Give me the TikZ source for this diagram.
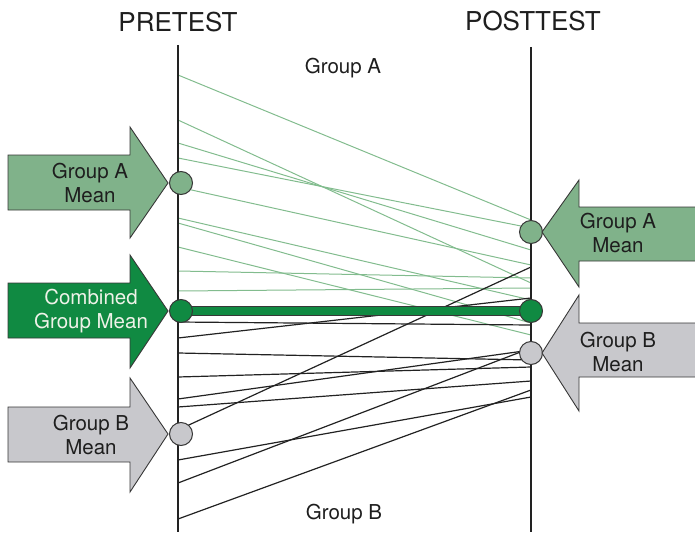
\documentclass[tikz,border=0pt]{standalone}
\usepackage{fontspec}
\setmainfont{TeX Gyre Heros}
\definecolor{fillA}{RGB}{128,178,138}
\definecolor{fillC}{RGB}{16,138,66}
\definecolor{fillB}{RGB}{200,200,204}
\definecolor{lineA}{RGB}{130,188,142}
\definecolor{lineB}{RGB}{34,34,34}
\definecolor{outline}{RGB}{55,55,55}
\definecolor{textdark}{RGB}{30,30,30}
\definecolor{textlight}{RGB}{238,242,232}
\tikzset{
  dataA/.style={draw=lineA, line width=1pt},
  dataB/.style={draw=lineB, line width=1.2pt},
  axisline/.style={draw=lineB, line width=2.6pt},
  dot/.style={circle, draw=outline, line width=1pt, minimum size=23pt, inner sep=0pt},
  bigarrow/.style={draw=outline, line width=0.9pt, line join=miter},
  arrowtext/.style={font=\fontsize{20.5}{24}\selectfont, align=center, text=textdark, inner sep=0pt},
  heading/.style={font=\fontsize{26}{28}\selectfont, text=textdark, inner sep=0pt},
  grouptext/.style={font=\fontsize{20.5}{24}\selectfont, text=textdark, inner sep=0pt},
}
\begin{document}
\begin{tikzpicture}[x=1pt,y=-1pt]
\useasboundingbox (0,0) rectangle (695,532);

% column headings
\node[heading, anchor=base] (pre)  at (178,32) {PRETEST};
\node[heading, anchor=base] (post) at (533,31) {POSTTEST};
\node[grouptext, anchor=base] (ga) at (343,74) {Group A};
\node[grouptext, anchor=base] (gb) at (344,519) {Group B};

% individual scores, Group A (pretest y / posttest y)
\foreach \a/\b [count=\i] in {75/220,120/283,143/250,158/228,187/265,218/300,223/323,247/335,271/278,291/288}{
  \coordinate (pa\i) at (178,\a);
  \coordinate (qa\i) at (531,\b);
  \draw[dataA] (pa\i) -- (qa\i);
}
% individual scores, Group B
\foreach \a/\b [count=\i] in {322/325,338/298,353/360,377/367,399/350,407/381,430/267,460/397,483/348,519/390}{
  \coordinate (pb\i) at (178,\a);
  \coordinate (qb\i) at (531,\b);
  \draw[dataB] (pb\i) -- (qb\i);
}

% test axes
\coordinate (ltop) at (178,45);
\coordinate (lbot) at (178,532);
\coordinate (rtop) at (531,47);
\coordinate (rbot) at (531,532);
\draw[axisline] (ltop) -- (lbot);
\draw[axisline] (rtop) -- (rbot);

% combined mean bar
\coordinate (cL) at (181,311);
\coordinate (cR) at (531,311);
\draw[line width=9.5pt, outline] (cL) -- (cR);
\draw[line width=7.5pt, fillC] (cL) -- (cR);

% mean markers
\node[dot, fill=fillA] (preA)  at (181,183) {};
\node[dot, fill=fillC] (preC)  at (cL) {};
\node[dot, fill=fillB] (preB)  at (181,434) {};
\node[dot, fill=fillA] (postA) at (531,232) {};
\node[dot, fill=fillC] (postC) at (cR) {};
\node[dot, fill=fillB] (postB) at (531,353) {};

% pretest block arrows
\filldraw[bigarrow, fill=fillA] (8,155) -- (130,155) -- (130,127) -- (168,183) -- (130,238) -- (130,210) -- (8,210) -- cycle;
\node[arrowtext] (tA) at (90,183) {Group A\\Mean};
\filldraw[bigarrow, fill=fillC] (8,283) -- (130,283) -- (130,255) -- (168,311) -- (130,368) -- (130,338) -- (8,338) -- cycle;
\node[arrowtext, text=textlight] (tC) at (91,311) {Combined\\Group Mean};
\filldraw[bigarrow, fill=fillB] (8,407) -- (130,407) -- (130,378) -- (168,434) -- (130,492) -- (130,462) -- (8,462) -- cycle;
\node[arrowtext] (tB) at (91,435) {Group B\\Mean};

% posttest block arrows
\filldraw[bigarrow, fill=fillA] (700,207) -- (579,207) -- (579,180) -- (542,232) -- (579,287) -- (579,261) -- (700,261) -- cycle;
\node[arrowtext] (uA) at (618,233) {Group A\\Mean};
\filldraw[bigarrow, fill=fillB] (700,323) -- (579,323) -- (579,295) -- (542,353) -- (579,411) -- (579,377) -- (700,377) -- cycle;
\node[arrowtext] (uB) at (618,352) {Group B\\Mean};
\end{tikzpicture}
\end{document}
